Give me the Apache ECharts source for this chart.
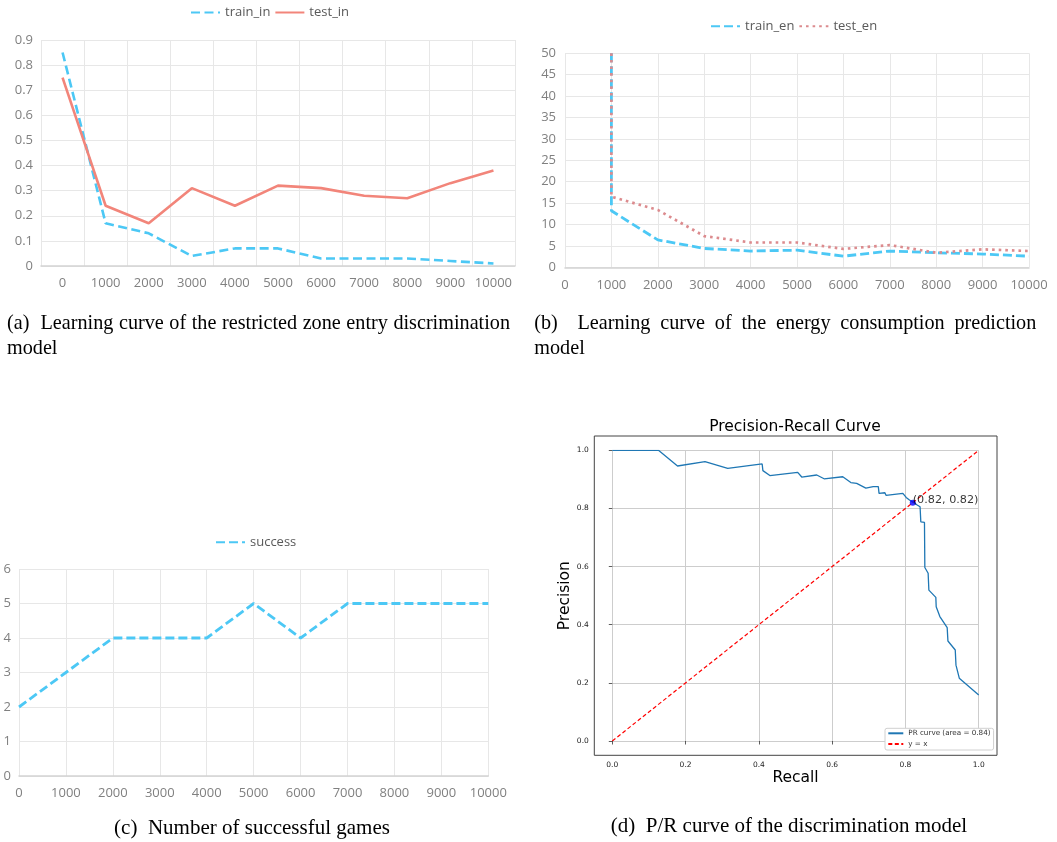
<!DOCTYPE html>
<html>
<head>
<meta charset="utf-8">
<script src="https://cdn.jsdelivr.net/npm/echarts@6/dist/echarts.min.js"></script>
<style>
html,body{margin:0;padding:0;background:#fff;}
#chart{width:1057px;height:842px;}
</style>
</head>
<body>
<div id="chart"></div>
<script>
// ---------------- data ----------------
const stepsA = ['0','1000','2000','3000','4000','5000','6000','7000','8000','9000','10000'];
const trainIn = [0.85,0.17,0.13,0.04,0.07,0.07,0.03,0.03,0.03,0.02,0.01];
const testIn  = [0.75,0.24,0.17,0.31,0.24,0.32,0.31,0.28,0.27,0.33,0.38];

const stepsEn = [1000,1000,2000,3000,4000,5000,6000,7000,8000,9000,10000];
const trainEn = [50,13.2,6.4,4.4,3.8,4.0,2.6,3.8,3.4,3.1,2.6];
const testEn  = [50,16.5,13.4,7.3,5.8,5.8,4.3,5.2,3.4,4.2,3.8];

const stepsSuccess = [0,1000,2000,3000,4000,5000,6000,7000,8000,9000,10000];
const success = [2,3,4,4,4,5,4,5,5,5,5];

const prRecall = [0,0.126,0.178,0.253,0.315,0.409,0.411,0.43,0.506,0.517,0.558,0.578,0.629,0.651,0.667,0.692,0.712,0.726,0.728,0.744,0.747,0.793,0.802,0.811,0.822,0.832,0.84,0.842,0.852,0.853,0.862,0.864,0.883,0.884,0.894,0.914,0.916,0.936,0.938,0.947,1.0];
const prPrecision = [1.0,1.0,0.946,0.961,0.938,0.953,0.93,0.913,0.924,0.908,0.915,0.902,0.909,0.889,0.886,0.87,0.875,0.875,0.852,0.854,0.845,0.852,0.838,0.829,0.821,0.812,0.806,0.754,0.752,0.597,0.577,0.519,0.494,0.462,0.428,0.39,0.344,0.313,0.261,0.216,0.158];
const diagX = [0,1];
const diagY = [0,1];
const bestPoint = [0.82,0.82];
const prLegendName = 'PR curve (area = 0.84)';
const diagLegendName = 'y = x';

const captionA1 = ['(a)','Learning','curve','of','the','restricted','zone','entry','discrimination'];
const captionB1 = ['(b)','Learning','curve','of','the','energy','consumption','prediction'];
const captionLine2 = 'model';
const captionC = '(c)  Number of successful games';
const captionD = '(d)  P/R curve of the discrimination model';
const prTitle = 'Precision-Recall Curve';

// ---------------- styles ----------------
const XL_FONT = '"Open Sans", "Noto Sans", sans-serif';
const MPL_FONT = '"DejaVu Sans", sans-serif';
const CAP_AB = '20.2px "Liberation Serif"';
const CAP_CD = '21px "Liberation Serif"';
const BLUE = '#4cc8f5';
const SALMON = '#f2857a';
const ROSE = '#dc8b8e';
const TICK = '#808080';
const GRIDC = '#e7e7e7';
const AXISC = '#d3d3d3';

function xlAxisLabel(margin){ return {color:TICK,fontSize:13,fontFamily:XL_FONT,margin:margin,formatter:v=>String(v)}; }

const pair = (xs, ys) => xs.map((x,i)=>[x, ys[i]]);

// justified caption words
const meas = document.createElement('canvas').getContext('2d');
function justified(words, x0, x1, y, font){
  meas.font = font;
  const widths = words.map(w=>meas.measureText(w).width);
  const total = widths.reduce((a,b)=>a+b,0);
  const weights = words.slice(1).map((w,i)=> i===0 ? 2 : 1);
  const wsum = weights.reduce((a,b)=>a+b,0);
  const unit = (x1-x0-total)/wsum;
  let x = x0;
  const els = [];
  words.forEach((w,i)=>{
    els.push({type:'text', style:{text:w, x:x, y:y, font:font, fill:'#000', align:'left', verticalAlign:'middle', textAlign:'left', textVerticalAlign:'middle'}});
    x += widths[i] + (i<weights.length ? weights[i]*unit : 0);
  });
  return els;
}
function plainText(t, x, y, align, font){
  return {type:'text', style:{text:t, x:x, y:y, font:font, fill:'#000', align:align, verticalAlign:'middle', textAlign:align, textVerticalAlign:'middle'}};
}

const graphics = [].concat(
  justified(captionA1, 7, 510, 324, CAP_AB),
  [plainText(captionLine2, 7, 349, 'left', CAP_AB)],
  justified(captionB1, 534.3, 1036.3, 324, CAP_AB),
  [plainText(captionLine2, 534.3, 349, 'left', CAP_AB)],
  [plainText(captionC, 252, 828, 'center', CAP_CD)],
  [plainText(captionD, 789, 826, 'center', CAP_CD)]
);

const xlLegend = {padding:0, itemWidth:29, itemHeight:14, itemGap:4,
  itemStyle:{opacity:0},
  textStyle:{color:'#595959',fontSize:13,fontFamily:XL_FONT}};

const chart = echarts.init(document.getElementById('chart'));
const option = {
  backgroundColor:'#fff',
  animation:false,
  title:[{
    text:prTitle, left:795, top:419, textAlign:'center', padding:0,
    textStyle:{fontFamily:MPL_FONT,fontSize:15.5,fontWeight:'normal',color:'#000'}
  }],
  legend:[
    Object.assign({data:['train_in','test_in'], left:190, top:6}, xlLegend),
    Object.assign({data:['train_en','test_en'], left:710, top:19.7}, xlLegend),
    Object.assign({data:['success'], left:215, top:535.7}, xlLegend),
    {data:[prLegendName, diagLegendName], orient:'vertical', left:885, top:728.3,
     padding:[1.5,3,2.5,2.3], itemWidth:15, itemHeight:8, itemGap:3.7,
     itemStyle:{opacity:0},
     backgroundColor:'#fff', borderColor:'#d0d0d0', borderWidth:1, borderRadius:2,
     textStyle:{color:'#333',fontSize:7.2,fontFamily:MPL_FONT}}
  ],
  grid:[
    {left:41, top:40, width:474, height:226},
    {left:565, top:53.3, width:464, height:214},
    {left:19, top:569, width:469.3, height:207},
    {left:612.3, top:450.3, width:366.4, height:290.7},
    {left:594.3, top:436, width:402.7, height:319.3, show:true, borderColor:'#444', borderWidth:1, backgroundColor:'transparent'}
  ],
  xAxis:[
    {gridIndex:0, type:'category', data:stepsA, boundaryGap:true,
     axisLine:{lineStyle:{color:AXISC,width:1.5}}, axisTick:{show:false},
     axisLabel:Object.assign(xlAxisLabel(11),{interval:0}),
     splitLine:{show:true, interval:0, lineStyle:{color:GRIDC,width:1}}},
    {gridIndex:1, type:'value', min:0, max:10000, interval:1000,
     axisLine:{lineStyle:{color:AXISC,width:1.5}}, axisTick:{show:false},
     axisLabel:xlAxisLabel(11.5), splitLine:{show:true, lineStyle:{color:GRIDC,width:1}}},
    {gridIndex:2, type:'value', min:0, max:10000, interval:1000,
     axisLine:{lineStyle:{color:AXISC,width:1.5}}, axisTick:{show:false},
     axisLabel:xlAxisLabel(11), splitLine:{show:true, lineStyle:{color:GRIDC,width:1}}},
    {gridIndex:3, type:'value', min:0, max:1, interval:0.2, offset:14.3,
     axisLine:{show:false}, axisTick:{show:true, length:3.5, lineStyle:{color:'#333',width:0.8}},
     axisLabel:{color:'#222',fontSize:7.5,fontFamily:MPL_FONT,margin:5.5,formatter:v=>v.toFixed(1)},
     splitLine:{show:true, lineStyle:{color:'#cdcdcd',width:1}},
     name:'Recall', nameLocation:'middle', nameGap:13,
     nameTextStyle:{fontFamily:MPL_FONT,fontSize:15.5,color:'#000'}}
  ],
  yAxis:[
    {gridIndex:0, type:'value', min:0, max:0.9, interval:0.1,
     axisLine:{show:false}, axisTick:{show:false}, axisLabel:xlAxisLabel(8),
     splitLine:{show:true, lineStyle:{color:GRIDC,width:1}}},
    {gridIndex:1, type:'value', min:0, max:50, interval:5,
     axisLine:{show:false}, axisTick:{show:false}, axisLabel:xlAxisLabel(9),
     splitLine:{show:true, lineStyle:{color:GRIDC,width:1}}},
    {gridIndex:2, type:'value', min:0, max:6, interval:1,
     axisLine:{show:false}, axisTick:{show:false}, axisLabel:xlAxisLabel(8),
     splitLine:{show:true, lineStyle:{color:GRIDC,width:1}}},
    {gridIndex:3, type:'value', min:0, max:1, interval:0.2, offset:18,
     axisLine:{show:false}, axisTick:{show:true, length:3.5, lineStyle:{color:'#333',width:0.8}},
     axisLabel:{color:'#222',fontSize:7.5,fontFamily:MPL_FONT,margin:5.5,formatter:v=>v.toFixed(1)},
     splitLine:{show:true, lineStyle:{color:'#cdcdcd',width:1}},
     name:'Precision', nameLocation:'middle', nameRotate:90, nameGap:11,
     nameTextStyle:{fontFamily:MPL_FONT,fontSize:15.5,color:'#000'}}
  ],
  series:[
    {name:'train_in', type:'line', xAxisIndex:0, yAxisIndex:0, data:trainIn, symbol:'none',
     lineStyle:{color:BLUE,width:2.6,type:[9,4.5]}, itemStyle:{color:BLUE}},
    {name:'test_in', type:'line', xAxisIndex:0, yAxisIndex:0, data:testIn, symbol:'none',
     lineStyle:{color:SALMON,width:2.6}, itemStyle:{color:SALMON}},
    {name:'train_en', type:'line', xAxisIndex:1, yAxisIndex:1, data:pair(stepsEn,trainEn), symbol:'none',
     lineStyle:{color:BLUE,width:2.8,type:[9,4]}, itemStyle:{color:BLUE}},
    {name:'test_en', type:'line', xAxisIndex:1, yAxisIndex:1, data:pair(stepsEn,testEn), symbol:'none',
     lineStyle:{color:ROSE,width:2.7,type:[2.6,4]}, itemStyle:{color:ROSE}},
    {name:'success', type:'line', xAxisIndex:2, yAxisIndex:2, data:pair(stepsSuccess,success), symbol:'none',
     lineStyle:{color:BLUE,width:2.8,type:[9,4]}, itemStyle:{color:BLUE}},
    {name:prLegendName, type:'line', xAxisIndex:3, yAxisIndex:3, data:pair(prRecall,prPrecision), symbol:'none',
     lineStyle:{color:'#1f77b4',width:1.3}, itemStyle:{color:'#1f77b4'}},
    {name:diagLegendName, type:'line', xAxisIndex:3, yAxisIndex:3, data:pair(diagX,diagY), symbol:'none',
     lineStyle:{color:'#ff0000',width:1.2,type:[4,2.5]}, itemStyle:{color:'#ff0000'}},
    {name:'best', type:'scatter', xAxisIndex:3, yAxisIndex:3, data:[bestPoint], symbolSize:6,
     itemStyle:{color:'#0000ff'}, z:5,
     label:{show:true, formatter:'(' + bestPoint[0].toFixed(2) + ', ' + bestPoint[1].toFixed(2) + ')',
       position:[3,5.5], align:'left', verticalAlign:'bottom',
       fontFamily:MPL_FONT, fontSize:11.2, color:'#000'}}
  ],
  graphic:graphics
};
chart.setOption(option);
</script>
</body>
</html>
